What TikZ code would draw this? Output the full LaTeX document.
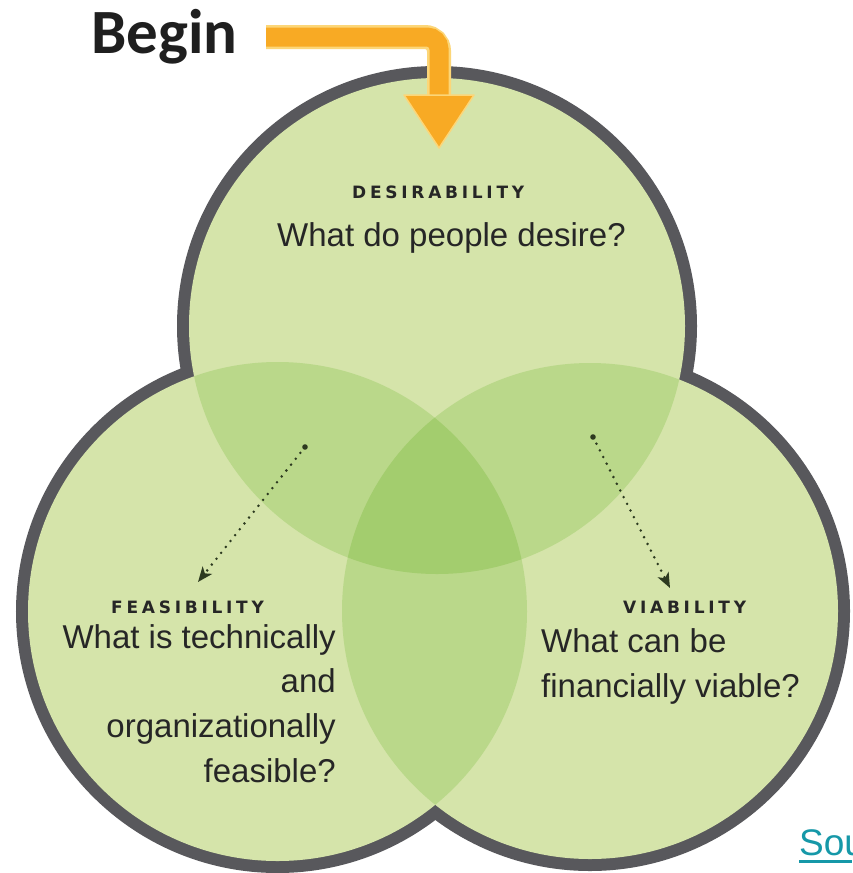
\documentclass[tikz,border=0pt]{standalone}
\usepackage{fontspec}
\setmainfont{Liberation Sans}
\newfontfamily\beginfont{Carlito}
\newfontfamily\capsfont[LetterSpace=22]{DejaVu Sans}
\usetikzlibrary{arrows.meta}

\definecolor{ringgray}{RGB}{88,88,92}
\definecolor{leafbase}{RGB}{213,228,170}
\definecolor{leafpair}{RGB}{186,216,138}
\definecolor{leafcore}{RGB}{163,205,110}
\definecolor{beginorange}{RGB}{248,170,36}
\definecolor{beginrim}{RGB}{252,214,120}
\definecolor{linkteal}{RGB}{22,152,168}
\definecolor{dotgreen}{RGB}{45,58,32}

\tikzset{
  ring/.style={draw=ringgray, line width=24pt},
  heading/.style={font=\capsfont\bfseries\fontsize{17}{20}\selectfont, text=black!85, inner sep=0pt},
  question/.style={font=\fontsize{33}{44.5}\selectfont, text=black!85, inner sep=0pt},
  pointer/.style={dotgreen, line width=2.8pt, line cap=round, dash pattern=on 0pt off 7.5pt,
    -{Stealth[length=15pt,width=12pt,inset=4pt,line cap=butt]}},
}

\begin{document}
\begin{tikzpicture}[x=1pt,y=-1pt]
  \useasboundingbox[fill=white] (0,0) rectangle (852,873);

  \coordinate (ctop) at (437,326);
  \coordinate (cleft) at (277.5,611.5);
  \coordinate (cright) at (590,611);
  \def\rtop{248pt}
  \def\rleft{249.5pt}
  \def\rright{248pt}

  % outer ring: thick outlines, inner halves covered by the fills
  \draw[ring] (ctop) circle[radius=\rtop];
  \draw[ring] (cleft) circle[radius=\rleft];
  \draw[ring] (cright) circle[radius=\rright];
  \fill[leafbase] (ctop) circle[radius=\rtop];
  \fill[leafbase] (cleft) circle[radius=\rleft];
  \fill[leafbase] (cright) circle[radius=\rright];

  % pairwise overlaps
  \begin{scope}
    \clip (ctop) circle[radius=\rtop];
    \fill[leafpair] (cleft) circle[radius=\rleft];
    \fill[leafpair] (cright) circle[radius=\rright];
  \end{scope}
  \begin{scope}
    \clip (cleft) circle[radius=\rleft];
    \fill[leafpair] (cright) circle[radius=\rright];
  \end{scope}
  % centre where all three meet
  \begin{scope}
    \clip (ctop) circle[radius=\rtop];
    \clip (cleft) circle[radius=\rleft];
    \fill[leafcore] (cright) circle[radius=\rright];
  \end{scope}

  % Begin arrow
  \node[font=\beginfont\bfseries\fontsize{63}{70}\selectfont, text=black!88, anchor=base west, inner sep=0pt] (begin) at (91,53) {Begin};
  \coordinate (bstart) at (266,37);
  \coordinate (bcorner) at (439,37);
  \coordinate (bdrop) at (439,100);
  \draw[beginrim, line width=24pt, rounded corners=14pt] (bstart) -- (bcorner) -- (bdrop);
  \draw[beginorange, line width=19pt, rounded corners=12pt] (bstart) -- (bcorner) -- (bdrop);
  \coordinate (hl) at (404,95);
  \coordinate (hr) at (474,95);
  \coordinate (tip) at (439,148);
  \filldraw[fill=beginorange, draw=beginrim, line width=1.5pt, line join=round] (hl) -- (hr) -- (tip) -- cycle;

  % Desirability
  \node[heading, anchor=base west] (deshead) at (352,198) {DESIRABILITY};
  \node[question, anchor=base west] (desq) at (277,246) {What do people desire?};

  % Feasibility
  \node[heading, anchor=base west] (feahead) at (111,613) {FEASIBILITY};
  \node[question, anchor=base east] (fea1) at (336,648) {What is technically};
  \node[question, anchor=base east] (fea2) at (336,692) {and};
  \node[question, anchor=base east] (fea3) at (336,737) {organizationally};
  \node[question, anchor=base east] (fea4) at (336,782) {feasible?};

  % Viability
  \node[heading, anchor=base west] (viahead) at (623,613) {VIABILITY};
  \node[question, anchor=base west] (via1) at (541,652) {What can be};
  \node[question, anchor=base west] (via2) at (541,697) {financially viable?};

  % dotted pointers from the overlaps
  \coordinate (pl0) at (305,447);
  \coordinate (pl1) at (198,582);
  \coordinate (pr0) at (593,437);
  \coordinate (pr1) at (670,588);
  \fill[dotgreen] (pl0) circle[radius=2.8pt];
  \fill[dotgreen] (pr0) circle[radius=2.8pt];
  \draw[pointer] (pl0) -- (pl1);
  \draw[pointer] (pr0) -- (pr1);

  % link in the corner
  \node[font=\fontsize{37}{40}\selectfont, text=linkteal, anchor=base west, inner sep=0pt] (src) at (799,855) {Sou};
  \coordinate (ul0) at (799,861);
  \coordinate (ul1) at (852,861);
  \draw[linkteal, line width=3pt] (ul0) -- (ul1);
\end{tikzpicture}
\end{document}
